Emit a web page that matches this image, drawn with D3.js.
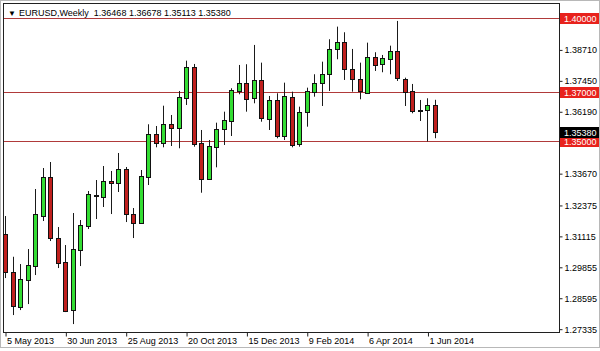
<!DOCTYPE html>
<html>
<head>
<meta charset="utf-8">
<script src="https://cdn.jsdelivr.net/npm/d3@7"></script>
<style>
  body { margin: 0; background: #fff; }
  svg text { font-family: "Liberation Sans", Arial, sans-serif; font-size: 9px; }
</style>
</head>
<body>
<div id="chart"></div>
<script>
// weekly EURUSD candles, 5 May 2013 .. 8 Jun 2014
var opens = [1.31198,1.29650,1.28223,1.29336,1.29906,1.31944,1.33533,1.31047,1.30069,1.28113,
  1.30558,1.31536,1.32820,1.32718,1.33370,1.33289,1.33859,1.32025,1.31659,1.33545,
  1.35273,1.34906,1.35681,1.35518,1.36781,1.38028,1.34906,1.33439,1.34768,1.35477,
  1.35815,1.37037,1.37376,1.36740,1.37486,1.35896,1.36671,1.35204,1.36805,1.34866,
  1.36170,1.37009,1.37351,1.37718,1.38749,1.39046,1.37934,1.37514,1.36985,1.38435,
  1.38138,1.38370,1.38680,1.37526,1.37037,1.36251,1.36243,1.36468];
var highs = [1.31944,1.30285,1.29988,1.30599,1.33044,1.33900,1.34144,1.31496,1.30762,1.32066,
  1.31781,1.32963,1.33411,1.33981,1.33778,1.34511,1.33941,1.32270,1.33818,1.35681,
  1.35611,1.36438,1.36059,1.37037,1.38272,1.38138,1.35448,1.35041,1.35746,1.36194,
  1.37148,1.38097,1.38126,1.38912,1.38191,1.36834,1.36944,1.37376,1.37009,1.36398,
  1.37172,1.37718,1.38231,1.39144,1.39658,1.39429,1.38749,1.38191,1.39006,1.38615,
  1.38504,1.38883,1.39890,1.37579,1.37323,1.36671,1.36740,1.36678];
var lows = [1.29417,1.27910,1.28113,1.28358,1.29540,1.31740,1.30925,1.29825,1.28032,1.27543,
  1.29906,1.31414,1.31822,1.32311,1.32025,1.32922,1.31699,1.31047,1.31640,1.33207,
  1.34743,1.34743,1.34796,1.34703,1.36467,1.34768,1.32893,1.33430,1.33928,1.34837,
  1.35204,1.36903,1.36194,1.36536,1.35786,1.35448,1.35110,1.35041,1.34743,1.34768,
  1.35583,1.36805,1.36426,1.37037,1.38329,1.37486,1.37009,1.36699,1.36977,1.37853,
  1.37800,1.37718,1.37445,1.36426,1.36129,1.35815,1.34980,1.35113];
var closes = [1.29633,1.28248,1.29364,1.29947,1.32025,1.33533,1.31047,1.30029,1.28073,1.30599,
  1.31577,1.32840,1.32759,1.33370,1.33289,1.33859,1.32025,1.31659,1.33574,1.35285,
  1.34906,1.35681,1.35518,1.36781,1.38028,1.34906,1.33439,1.34796,1.35489,1.35856,
  1.37078,1.37376,1.36740,1.37486,1.35925,1.36671,1.35216,1.36834,1.34837,1.36170,
  1.37037,1.37376,1.37718,1.38749,1.39046,1.37934,1.37514,1.37009,1.38435,1.38126,
  1.38370,1.38680,1.37579,1.37009,1.36235,1.36263,1.36455,1.35380];

var levels = [1.40, 1.37, 1.35];
var lastPrice = 1.35380;
var priceTicks = [1.38710, 1.37450, 1.36190, 1.33670, 1.32375, 1.31115, 1.29855, 1.28595, 1.27335];
var dateTicks = ["2013-05-05", "2013-06-30", "2013-08-25", "2013-10-20",
  "2013-12-15", "2014-02-09", "2014-04-06", "2014-06-01"];
var title = "EURUSD,Weekly";

var svgWidth = 600;
var svgHeight = 351;
var plot = { left: 3, right: 559, top: 3, bottom: 332 };

var parseDate = d3.timeParse("%Y-%m-%d");
var weeks = d3.timeWeek.range(parseDate("2013-05-05"), parseDate("2014-06-09"));

var candles = weeks.map(function(d, i) {
  return { date: d, o: opens[i], h: highs[i], l: lows[i], c: closes[i] };
});

var svg = d3.select("#chart")
  .append("svg")
  .attr("width", svgWidth)
  .attr("height", svgHeight);

// outer frame
svg.append("rect")
  .attr("x", 0.5).attr("y", 0.5)
  .attr("width", svgWidth - 1).attr("height", svgHeight - 4)
  .attr("fill", "#fff")
  .attr("stroke", "#b8b8b8");

var x = d3.scaleTime()
  .domain([weeks[0], weeks[weeks.length - 1]])
  .range([5, 435]);

var y = d3.scaleLinear()
  .domain([1.2722, 1.4058])
  .range([plot.bottom, plot.top + 1]);

// plot border
svg.append("rect")
  .attr("x", plot.left + 0.5).attr("y", plot.top + 0.5)
  .attr("width", plot.right - plot.left).attr("height", plot.bottom - plot.top)
  .attr("fill", "none")
  .attr("stroke", "#202020");

// price axis
var rightAxis = d3.axisRight(y)
  .tickValues(priceTicks)
  .tickFormat(d3.format(".5f"))
  .tickSize(3)
  .tickPadding(2);

var yAxis = svg.append("g")
  .attr("transform", `translate(${plot.right + 0.5}, 0)`)
  .call(rightAxis);
yAxis.select(".domain").remove();
yAxis.selectAll("line").attr("stroke", "#202020");
yAxis.selectAll("text").attr("fill", "#000").style("font-size", "9px");

// time axis
var bottomAxis = d3.axisBottom(x)
  .tickValues(dateTicks.map(parseDate))
  .tickFormat(d3.timeFormat("%-d %b %Y"))
  .tickSize(4);

var xAxis = svg.append("g")
  .attr("transform", `translate(0.5, ${plot.bottom + 0.5})`)
  .call(bottomAxis);
xAxis.select(".domain").remove();
xAxis.selectAll("line").attr("stroke", "#202020");
xAxis.selectAll("text")
  .attr("fill", "#000")
  .attr("text-anchor", "start")
  .attr("x", 1)
  .attr("y", 5)
  .attr("dy", "0.71em")
  .style("font-size", "9px");

// horizontal levels
svg.selectAll(".level")
  .data(levels)
  .enter()
  .append("line")
  .attr("class", "level")
  .attr("x1", plot.left + 1)
  .attr("x2", plot.right)
  .attr("y1", d => Math.round(y(d)) + 0.5)
  .attr("y2", d => Math.round(y(d)) + 0.5)
  .attr("stroke", "#b03a3a");

// candles
var candleGroup = svg.append("g");

candleGroup.selectAll(".wick")
  .data(candles)
  .enter()
  .append("line")
  .attr("class", "wick")
  .attr("x1", d => Math.round(x(d.date)) + 0.5)
  .attr("x2", d => Math.round(x(d.date)) + 0.5)
  .attr("y1", d => y(d.h))
  .attr("y2", d => y(d.l))
  .attr("stroke", "#1a1a1a");

candleGroup.selectAll(".body")
  .data(candles)
  .enter()
  .append("rect")
  .attr("class", "body")
  .attr("x", d => Math.round(x(d.date)) - 1.5)
  .attr("width", 4)
  .attr("y", d => Math.round(y(Math.max(d.o, d.c))) + 0.5)
  .attr("height", d => Math.max(1, Math.round(Math.abs(y(d.o) - y(d.c)))))
  .attr("fill", d => d.c >= d.o ? "#33dd33" : "#c0201e")
  .attr("stroke", "#111");

// level labels on the price axis
function priceBox(value, fill) {
  var cy = Math.round(y(value));
  svg.append("rect")
    .attr("x", plot.right + 1)
    .attr("y", cy - 5)
    .attr("width", svgWidth - plot.right - 2)
    .attr("height", 11)
    .attr("fill", fill);
  svg.append("text")
    .attr("x", plot.right + 5)
    .attr("y", cy + 3.5)
    .attr("fill", "#fff")
    .text(d3.format(".5f")(value));
}
levels.forEach(function(v) { priceBox(v, "#e8221c"); });
priceBox(lastPrice, "#000");

// header
var last = candles[candles.length - 1];
svg.append("text")
  .attr("x", 8)
  .attr("y", 16)
  .style("font-size", "8px")
  .text("\u25BC");
svg.append("text")
  .attr("x", 19)
  .attr("y", 16)
  .attr("fill", "#000")
  .attr("xml:space", "preserve")
  .text(title + "  " + [last.o, last.h, last.l, last.c].map(d3.format(".5f")).join(" "));
</script>
</body>
</html>
